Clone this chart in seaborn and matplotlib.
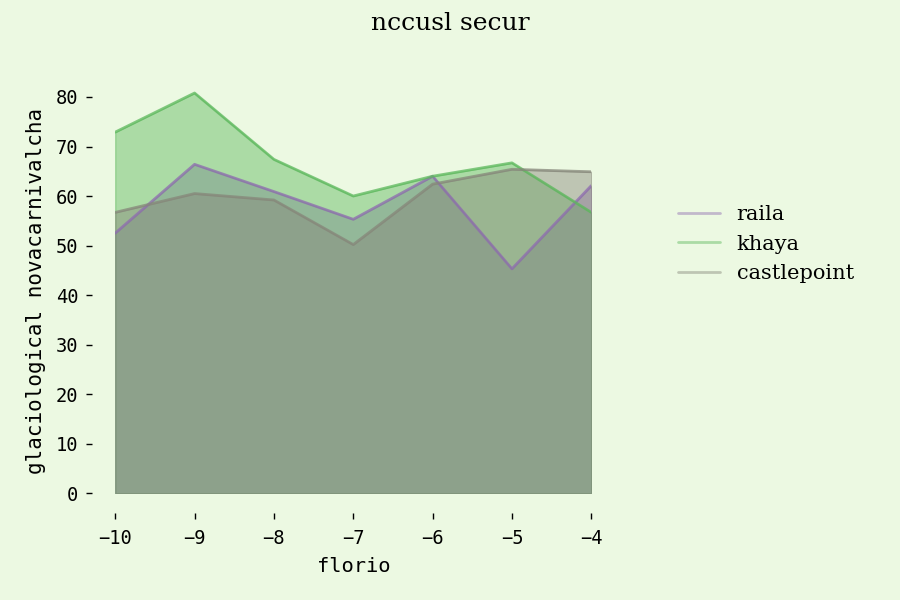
import pandas as pd
import numpy as np

import seaborn as sns
import matplotlib.pyplot as plt
from matplotlib.lines import Line2D


# data
years = [-10, -9, -8, -7, -6, -5, -4]
raila = [52.5, 66.4, 60.9, 55.3, 64.0, 45.3, 62.1]
khaya = [72.9, 80.8, 67.4, 60.0, 64.0, 66.7, 56.7]
castlepoint = [56.7, 60.5, 59.2, 50.2, 62.4, 65.4, 64.9]

series_names = ['raila', 'khaya', 'castlepoint']
palette = {'raila': '#8e6bb0', 'khaya': '#5cb85c', 'castlepoint': '#86877a'}

df = pd.DataFrame({'florio': years * 3,
                   'value': raila + khaya + castlepoint,
                   'series': np.repeat(series_names, len(years))})

sns.set_style('white')
bg = '#ecf9e2'
plt.rcParams['figure.facecolor'] = bg
plt.rcParams['axes.facecolor'] = bg
plt.rcParams['text.color'] = 'black'
plt.rcParams['axes.labelcolor'] = 'black'
plt.rcParams['xtick.color'] = 'black'
plt.rcParams['ytick.color'] = 'black'

fig = plt.figure(figsize=(9, 6), dpi=100)
ax = fig.add_axes([0.128, 0.178, 0.529, 0.70])

sns.lineplot(data=df, x='florio', y='value', hue='series', palette=palette,
             hue_order=series_names, linewidth=2, alpha=0.75, ax=ax, legend=False)

for name in series_names:
    sub = df[df['series'] == name]
    ax.fill_between(sub['florio'], 0, sub['value'], color=palette[name],
                    alpha=0.45, linewidth=1)

ax.set_xlim(-10, -4)
ax.set_ylim(0, 84.8)
ax.set_yticks(range(0, 81, 10))

for side in ['top', 'right', 'left', 'bottom']:
    ax.spines[side].set_visible(False)
ax.spines['left'].set_position(('outward', 17))
ax.spines['bottom'].set_position(('outward', 14))
ax.tick_params(axis='both', direction='out', length=4.5, width=1,
               labelsize=13.5, pad=5, left=True, bottom=True)
ax.tick_params(axis='x', pad=7)
for lab in ax.get_xticklabels() + ax.get_yticklabels():
    lab.set_family('DejaVu Sans Mono')

ax.set_xlabel('florio', family='DejaVu Sans Mono', fontsize=14.7, labelpad=7)
ax.set_ylabel('glaciological novacarnivalcha', family='DejaVu Sans Mono', fontsize=15)
ax.yaxis.set_label_coords(-0.145, 0.481)

handles = [Line2D([], [], color=palette[n], lw=2, alpha=0.45) for n in series_names]
ax.legend(handles, series_names, loc='center left', bbox_to_anchor=(1.1435, 0.593),
          frameon=False, prop={'family': 'DejaVu Serif', 'size': 15})

fig.suptitle('nccusl secur', family='DejaVu Serif', fontsize=18, y=0.98)

fig.savefig('out.png', dpi=100, facecolor=bg)
